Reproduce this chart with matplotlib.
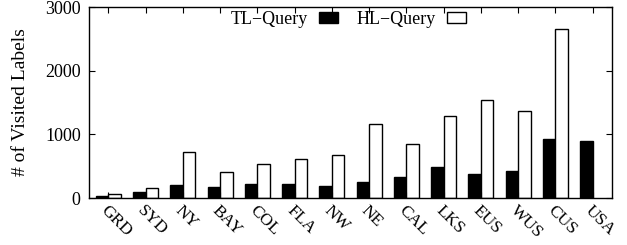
import numpy as np
import matplotlib
matplotlib.use("Agg")
import matplotlib.pyplot as plt

datasets = ["GRD", "SYD", "NY", "BAY", "COL", "FLA", "NW", "NE",
            "CAL", "LKS", "EUS", "WUS", "CUS", "USA"]
tl_query = [30, 100, 200, 170, 215, 215, 190, 250, 330, 490, 375, 420, 925, 900]
hl_query = [55, 155, 720, 405, 530, 610, 675, 1170, 855, 1295, 1535, 1370, 2660, 0]

plt.rcParams["font.family"] = ["Liberation Serif", "DejaVu Serif"]
plt.rcParams["font.size"] = 13

fig = plt.figure(figsize=(6.27, 2.45), dpi=100)
ax = fig.add_axes([89 / 627, 47 / 245, 523 / 627, 191 / 245])

x = np.arange(len(datasets))
w = 0.335
ax.bar(x - w / 2, tl_query, w, color="black", edgecolor="black", lw=1,
       label="TL\u2212Query")
hl_x = [xi for xi, v in zip(x, hl_query) if v > 0]
hl_v = [v for v in hl_query if v > 0]
ax.bar(np.array(hl_x) + w / 2, hl_v, w, color="white", edgecolor="black", lw=1,
       label="HL\u2212Query")

ax.set_xlim(-0.52, 13.52)
ax.set_ylim(0, 3000)
ax.set_yticks([0, 1000, 2000, 3000])
ax.set_xticks(x)
ax.set_xticklabels(datasets, rotation=-45, ha="left", va="top",
                   rotation_mode="anchor", fontsize=12.5)
ax.tick_params(direction="in", top=True, right=True, length=4, width=0.8)
ax.tick_params(axis="x", pad=3)
ax.tick_params(axis="y", pad=6, labelsize=13)
ax.set_ylabel("# of Visited Labels", fontsize=14)
ax.yaxis.set_label_coords(-0.115, 0.5)
for s in ax.spines.values():
    s.set_linewidth(1)

ax.legend(loc="center", bbox_to_anchor=(0.496, 0.935), ncol=2,
          frameon=False, markerfirst=False, handlelength=1.1,
          handleheight=0.5, columnspacing=1.0, handletextpad=0.6,
          borderpad=0, fontsize=13)

fig.savefig("out.png", dpi=100)
